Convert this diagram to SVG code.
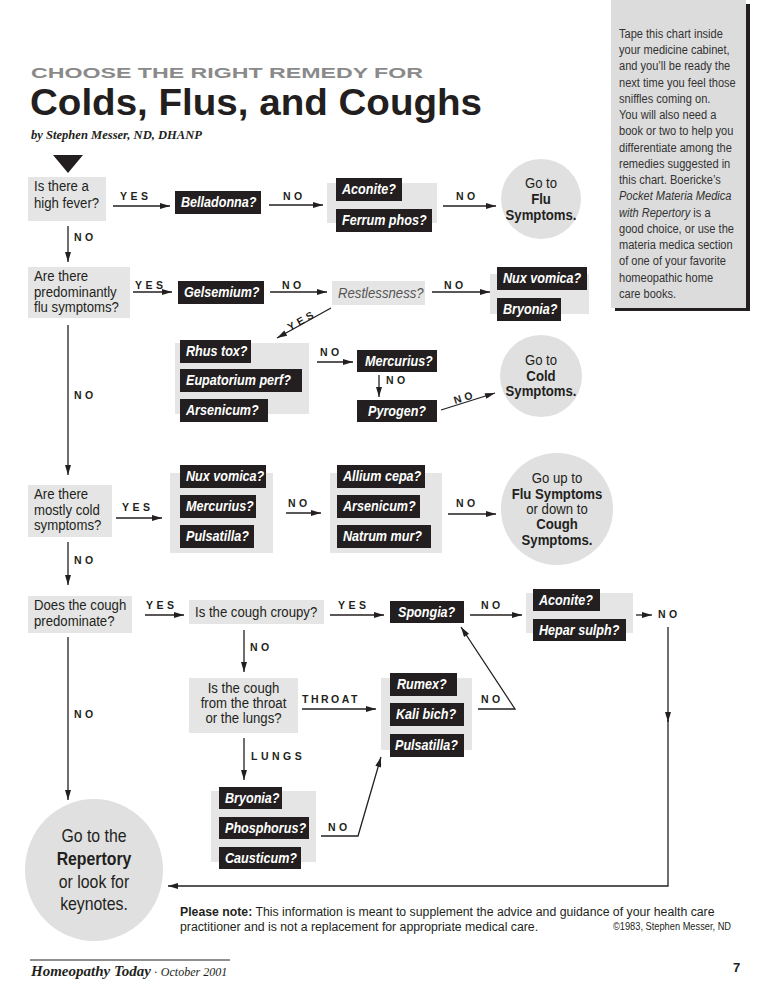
<svg xmlns="http://www.w3.org/2000/svg" width="768" height="994" viewBox="0 0 768 994">
<defs>
<style>
.q{font-family:"Liberation Sans",Arial,sans-serif;font-size:15.5px;fill:#231f20}
.qi{font-family:"Liberation Sans",Arial,sans-serif;font-size:15.5px;font-style:italic;fill:#555}
.r{font-family:"Liberation Sans",Arial,sans-serif;font-size:14px;font-weight:bold;font-style:italic;fill:#fff}
.l{font-family:"Liberation Sans",Arial,sans-serif;font-size:10.5px;font-weight:bold;letter-spacing:3.5px;fill:#231f20}
.c{font-family:"Liberation Sans",Arial,sans-serif;font-size:15.5px;fill:#231f20;text-anchor:middle}
.cb{font-weight:bold}
.big{font-size:18px}
.s{font-family:"Liberation Sans",Arial,sans-serif;font-size:13.5px;fill:#333}
.n{font-family:"Liberation Sans",Arial,sans-serif;font-size:13.5px;fill:#231f20}
.g{fill:#e5e5e5}
.k{fill:#231f20}
.ci{fill:#e0e0e0}
.ln{stroke:#231f20;stroke-width:1.3;fill:none}
</style>
<marker id="ah" viewBox="0 0 10 6" refX="10" refY="3" markerWidth="11" markerHeight="6" orient="auto" markerUnits="userSpaceOnUse"><path d="M0,0 L10,3 L0,6 Z" fill="#231f20"/></marker>
</defs>
<rect width="768" height="994" fill="#fff"/>

<!-- sidebar -->
<g id="sidebar">
<rect x="615" y="4" width="135" height="307" fill="#231f20"/>
<rect x="611" y="0" width="135" height="308" fill="#dcdcdc"/>
<g transform="translate(619,0) scale(0.82,1)">
<text class="s" x="0" y="38">Tape this chart inside</text>
<text class="s" x="0" y="54.25">your medicine cabinet,</text>
<text class="s" x="0" y="70.5">and you’ll be ready the</text>
<text class="s" x="0" y="86.75">next time you feel those</text>
<text class="s" x="0" y="103">sniffles coming on.</text>
<text class="s" x="0" y="119.25">You will also need a</text>
<text class="s" x="0" y="135.5">book or two to help you</text>
<text class="s" x="0" y="151.75">differentiate among the</text>
<text class="s" x="0" y="168">remedies suggested in</text>
<text class="s" x="0" y="184.25">this chart. Boericke’s</text>
<text class="s" x="0" y="200.5" font-style="italic">Pocket Materia Medica</text>
<text class="s" x="0" y="216.75"><tspan font-style="italic">with Repertory</tspan> is a</text>
<text class="s" x="0" y="233">good choice, or use the</text>
<text class="s" x="0" y="249.25">materia medica section</text>
<text class="s" x="0" y="265.5">of one of your favorite</text>
<text class="s" x="0" y="281.75">homeopathic home</text>
<text class="s" x="0" y="298">care books.</text>
</g>
</g>

<!-- title -->
<g id="title">
<text x="31" y="78" font-family="Liberation Sans, Arial, sans-serif" font-weight="bold" font-size="15" fill="#8a8a8a" textLength="392" lengthAdjust="spacingAndGlyphs">CHOOSE THE RIGHT REMEDY FOR</text>
<text x="30" y="115" font-family="Liberation Sans, Arial, sans-serif" font-weight="bold" font-size="36" fill="#231f20" textLength="452" lengthAdjust="spacingAndGlyphs">Colds, Flus, and Coughs</text>
<text x="31" y="139" font-family="Liberation Serif, Times New Roman, serif" font-weight="bold" font-style="italic" font-size="12" fill="#231f20" textLength="171" lengthAdjust="spacingAndGlyphs">by Stephen Messer, ND, DHANP</text>
<polygon points="53,155 83,155 68,173" fill="#231f20"/>
</g>

<!-- connectors -->
<g id="connectors">
<path class="ln" d="M113,206 H170" marker-end="url(#ah)"/>
<path class="ln" d="M269,205 H323" marker-end="url(#ah)"/>
<path class="ln" d="M443,206 H496" marker-end="url(#ah)"/>
<path class="ln" d="M68,226 V262" marker-end="url(#ah)"/>
<path class="ln" d="M133,292 H172" marker-end="url(#ah)"/>
<path class="ln" d="M270,292 H327" marker-end="url(#ah)"/>
<path class="ln" d="M432,292 H490" marker-end="url(#ah)"/>
<path class="ln" d="M331,308 L277,338" marker-end="url(#ah)"/>
<path class="ln" d="M317,362 H353" marker-end="url(#ah)"/>
<path class="ln" d="M379,375 V397" marker-end="url(#ah)"/>
<path class="ln" d="M441,410 L495,393" marker-end="url(#ah)"/>
<path class="ln" d="M68,325 V475" marker-end="url(#ah)"/>
<path class="ln" d="M116,518 H162" marker-end="url(#ah)"/>
<path class="ln" d="M286,513 H321" marker-end="url(#ah)"/>
<path class="ln" d="M448,514 H496" marker-end="url(#ah)"/>
<path class="ln" d="M68,542 V585" marker-end="url(#ah)"/>
<path class="ln" d="M145,615 H184" marker-end="url(#ah)"/>
<path class="ln" d="M330,615 H384" marker-end="url(#ah)"/>
<path class="ln" d="M470,615 H522" marker-end="url(#ah)"/>
<path class="ln" d="M636,615 H652" marker-end="url(#ah)"/>
<path class="ln" d="M668,627 V722" marker-end="url(#ah)"/>
<path class="ln" d="M668,720 V886 H168" marker-end="url(#ah)"/>
<path class="ln" d="M244,630 V672" marker-end="url(#ah)"/>
<path class="ln" d="M302,709 H376" marker-end="url(#ah)"/>
<path class="ln" d="M478,709 H515 L461,627" marker-end="url(#ah)"/>
<path class="ln" d="M244,738 V780" marker-end="url(#ah)"/>
<path class="ln" d="M321,836 H358 L381,757" marker-end="url(#ah)"/>
<path class="ln" d="M68,637 V800" marker-end="url(#ah)"/>
<text class="l" x="120" y="200">YES</text>
<text class="l" x="283" y="200">NO</text>
<text class="l" x="456" y="200">NO</text>
<text class="l" x="74" y="241">NO</text>
<text class="l" x="135" y="289">YES</text>
<text class="l" x="282" y="289">NO</text>
<text class="l" x="444" y="289">NO</text>
<text class="l" transform="translate(290,331) rotate(-29)">YES</text>
<text class="l" x="320" y="356">NO</text>
<text class="l" x="386" y="384">NO</text>
<text class="l" transform="translate(455,404) rotate(-17)">NO</text>
<text class="l" x="74" y="399">NO</text>
<text class="l" x="122" y="511">YES</text>
<text class="l" x="288" y="507">NO</text>
<text class="l" x="456" y="507">NO</text>
<text class="l" x="74" y="564">NO</text>
<text class="l" x="146" y="609">YES</text>
<text class="l" x="338" y="609">YES</text>
<text class="l" x="481" y="609">NO</text>
<text class="l" x="658" y="618">NO</text>
<text class="l" x="250" y="651">NO</text>
<text class="l" x="302" y="703" style="letter-spacing:2.5px">THROAT</text>
<text class="l" x="481" y="703">NO</text>
<text class="l" x="251" y="760">LUNGS</text>
<text class="l" x="328" y="831">NO</text>
<text class="l" x="74" y="718">NO</text>
</g>

<!-- row 1 -->
<g id="q-fever">
<rect class="g" x="28" y="177" width="78" height="44"/>
<g transform="translate(34,0) scale(0.85,1)">
<text class="q" x="0" y="191">Is there a</text>
<text class="q" x="0" y="208">high fever?</text>
</g>
</g>
<g id="belladonna">
<rect class="k" x="175" y="191" width="86" height="23"/>
<text class="r" transform="translate(181,207) scale(0.9,1)">Belladonna?</text>
</g>
<g id="aconite-ferrum">
<rect class="g" x="327" y="183" width="110" height="40"/>
<rect class="k" x="336" y="178" width="66" height="23"/>
<text class="r" transform="translate(342,194) scale(0.9,1)">Aconite?</text>
<rect class="k" x="336" y="209" width="96" height="23"/>
<text class="r" transform="translate(342,225) scale(0.9,1)">Ferrum phos?</text>
</g>
<g id="flu-circle">
<circle class="ci" cx="541" cy="199" r="40"/>
<g transform="translate(541,0) scale(0.85,1)">
<text class="c" x="0" y="188">Go to</text>
<text class="c cb" x="0" y="204">Flu</text>
<text class="c cb" x="0" y="220">Symptoms.</text>
</g>
</g>

<!-- row 2 -->
<g id="q-flu">
<rect class="g" x="28" y="267" width="102" height="51"/>
<g transform="translate(34,0) scale(0.85,1)">
<text class="q" x="0" y="281">Are there</text>
<text class="q" x="0" y="297">predominantly</text>
<text class="q" x="0" y="312">flu symptoms?</text>
</g>
</g>
<g id="gelsemium">
<rect class="k" x="178" y="281" width="86" height="23"/>
<text class="r" transform="translate(184,297) scale(0.9,1)">Gelsemium?</text>
</g>
<g id="restlessness">
<rect class="g" x="332" y="281" width="93" height="24"/>
<text class="qi" transform="translate(338,298) scale(0.85,1)">Restlessness?</text>
</g>
<g id="nux-bryonia">
<rect class="g" x="490" y="274" width="99" height="40"/>
<rect class="k" x="497" y="267" width="90" height="23"/>
<text class="r" transform="translate(503,283) scale(0.9,1)">Nux vomica?</text>
<rect class="k" x="497" y="298" width="64" height="23"/>
<text class="r" transform="translate(503,314) scale(0.9,1)">Bryonia?</text>
</g>
<g id="rhus-group">
<rect class="g" x="175" y="343" width="134" height="71"/>
<rect class="k" x="180" y="340" width="71" height="23"/>
<text class="r" transform="translate(186,356) scale(0.9,1)">Rhus tox?</text>
<rect class="k" x="180" y="369" width="122" height="23"/>
<text class="r" transform="translate(186,385) scale(0.9,1)">Eupatorium perf?</text>
<rect class="k" x="180" y="399" width="88" height="23"/>
<text class="r" transform="translate(186,415) scale(0.9,1)">Arsenicum?</text>
</g>
<g id="mercurius">
<rect class="k" x="357" y="350" width="80" height="22"/>
<text class="r" transform="translate(365,366) scale(0.9,1)">Mercurius?</text>
</g>
<g id="pyrogen">
<rect class="k" x="357" y="400" width="80" height="22"/>
<text class="r" transform="translate(368,416) scale(0.9,1)">Pyrogen?</text>
</g>
<g id="cold-circle">
<circle class="ci" cx="541" cy="376" r="41"/>
<g transform="translate(541,0) scale(0.85,1)">
<text class="c" x="0" y="365">Go to</text>
<text class="c cb" x="0" y="381">Cold</text>
<text class="c cb" x="0" y="396">Symptoms.</text>
</g>
</g>

<!-- row 3 -->
<g id="q-cold">
<rect class="g" x="28" y="485" width="84" height="52"/>
<g transform="translate(34,0) scale(0.85,1)">
<text class="q" x="0" y="499">Are there</text>
<text class="q" x="0" y="515">mostly cold</text>
<text class="q" x="0" y="530">symptoms?</text>
</g>
</g>
<g id="cold-group1">
<rect class="g" x="170" y="473" width="103" height="80"/>
<rect class="k" x="180" y="465" width="86" height="23"/>
<text class="r" transform="translate(186,481) scale(0.9,1)">Nux vomica?</text>
<rect class="k" x="180" y="495" width="76" height="23"/>
<text class="r" transform="translate(186,511) scale(0.9,1)">Mercurius?</text>
<rect class="k" x="180" y="525" width="74" height="23"/>
<text class="r" transform="translate(186,541) scale(0.9,1)">Pulsatilla?</text>
</g>
<g id="cold-group2">
<rect class="g" x="330" y="473" width="112" height="80"/>
<rect class="k" x="337" y="465" width="88" height="23"/>
<text class="r" transform="translate(343,481) scale(0.9,1)">Allium cepa?</text>
<rect class="k" x="337" y="495" width="83" height="23"/>
<text class="r" transform="translate(343,511) scale(0.9,1)">Arsenicum?</text>
<rect class="k" x="337" y="525" width="94" height="23"/>
<text class="r" transform="translate(343,541) scale(0.9,1)">Natrum mur?</text>
</g>
<g id="updown-circle">
<circle class="ci" cx="557" cy="509" r="56"/>
<g transform="translate(557,0) scale(0.85,1)">
<text class="c" x="0" y="483">Go up to</text>
<text class="c cb" x="0" y="499">Flu Symptoms</text>
<text class="c" x="0" y="514">or down to</text>
<text class="c cb" x="0" y="529">Cough</text>
<text class="c cb" x="0" y="545">Symptoms.</text>
</g>
</g>

<!-- row 4 -->
<g id="q-cough">
<rect class="g" x="28" y="596" width="104" height="37"/>
<g transform="translate(34,0) scale(0.85,1)">
<text class="q" x="0" y="610">Does the cough</text>
<text class="q" x="0" y="626">predominate?</text>
</g>
</g>
<g id="q-croupy">
<rect class="g" x="189" y="600" width="135" height="24"/>
<text class="q" transform="translate(195,617) scale(0.85,1)">Is the cough croupy?</text>
</g>
<g id="spongia">
<rect class="k" x="390" y="601" width="74" height="22"/>
<text class="r" transform="translate(398,617) scale(0.9,1)">Spongia?</text>
</g>
<g id="aconite-hepar">
<rect class="g" x="526" y="593" width="107" height="40"/>
<rect class="k" x="533" y="589" width="67" height="22"/>
<text class="r" transform="translate(539,605) scale(0.9,1)">Aconite?</text>
<rect class="k" x="533" y="619" width="93" height="22"/>
<text class="r" transform="translate(539,635) scale(0.9,1)">Hepar sulph?</text>
</g>
<g id="q-throat">
<rect class="g" x="189" y="678" width="109" height="55"/>
<g transform="translate(243.5,0) scale(0.85,1)">
<text class="c" x="0" y="693">Is the cough</text>
<text class="c" x="0" y="708">from the throat</text>
<text class="c" x="0" y="723">or the lungs?</text>
</g>
</g>
<g id="throat-group">
<rect class="g" x="381" y="678" width="91" height="72"/>
<rect class="k" x="390" y="673" width="67" height="23"/>
<text class="r" transform="translate(397,689) scale(0.9,1)">Rumex?</text>
<rect class="k" x="390" y="703" width="74" height="23"/>
<text class="r" transform="translate(396,719) scale(0.9,1)">Kali bich?</text>
<rect class="k" x="390" y="734" width="74" height="23"/>
<text class="r" transform="translate(395,750) scale(0.9,1)">Pulsatilla?</text>
</g>
<g id="lungs-group">
<rect class="g" x="211" y="791" width="105" height="71"/>
<rect class="k" x="219" y="787" width="63" height="22"/>
<text class="r" transform="translate(225,803) scale(0.9,1)">Bryonia?</text>
<rect class="k" x="219" y="817" width="90" height="22"/>
<text class="r" transform="translate(225,833) scale(0.9,1)">Phosphorus?</text>
<rect class="k" x="219" y="847" width="82" height="22"/>
<text class="r" transform="translate(225,863) scale(0.9,1)">Causticum?</text>
</g>
<g id="repertory-circle">
<ellipse class="ci" cx="94" cy="870" rx="69" ry="71"/>
<g transform="translate(94,0) scale(0.88,1)">
<text class="c big" x="0" y="842">Go to the</text>
<text class="c cb big" x="0" y="865">Repertory</text>
<text class="c big" x="0" y="888">or look for</text>
<text class="c big" x="0" y="910">keynotes.</text>
</g>
</g>

<!-- notes and footer -->
<g id="note">
<g transform="translate(180,0) scale(0.91,1)">
<text class="n" x="0" y="916"><tspan font-weight="bold">Please note:</tspan> This information is meant to supplement the advice and guidance of your health care</text>
<text class="n" x="0" y="931">practitioner and is not a replacement for appropriate medical care.</text>
</g>
<text x="613" y="930" font-family="Liberation Sans, Arial, sans-serif" font-size="10" fill="#231f20" textLength="118" lengthAdjust="spacingAndGlyphs">©1983, Stephen Messer, ND</text>
</g>
<g id="footer">
<line x1="30" y1="960" x2="230" y2="960" stroke="#231f20" stroke-width="1"/>
<text x="31" y="976" font-family="Liberation Serif, Times New Roman, serif" fill="#231f20"><tspan font-weight="bold" font-style="italic" font-size="15">Homeopathy Today</tspan><tspan font-size="12"> · </tspan><tspan font-style="italic" font-size="12">October 2001</tspan></text>
<text x="733" y="972" font-family="Liberation Sans, Arial, sans-serif" font-weight="bold" font-size="13" fill="#231f20">7</text>
</g>
</svg>
